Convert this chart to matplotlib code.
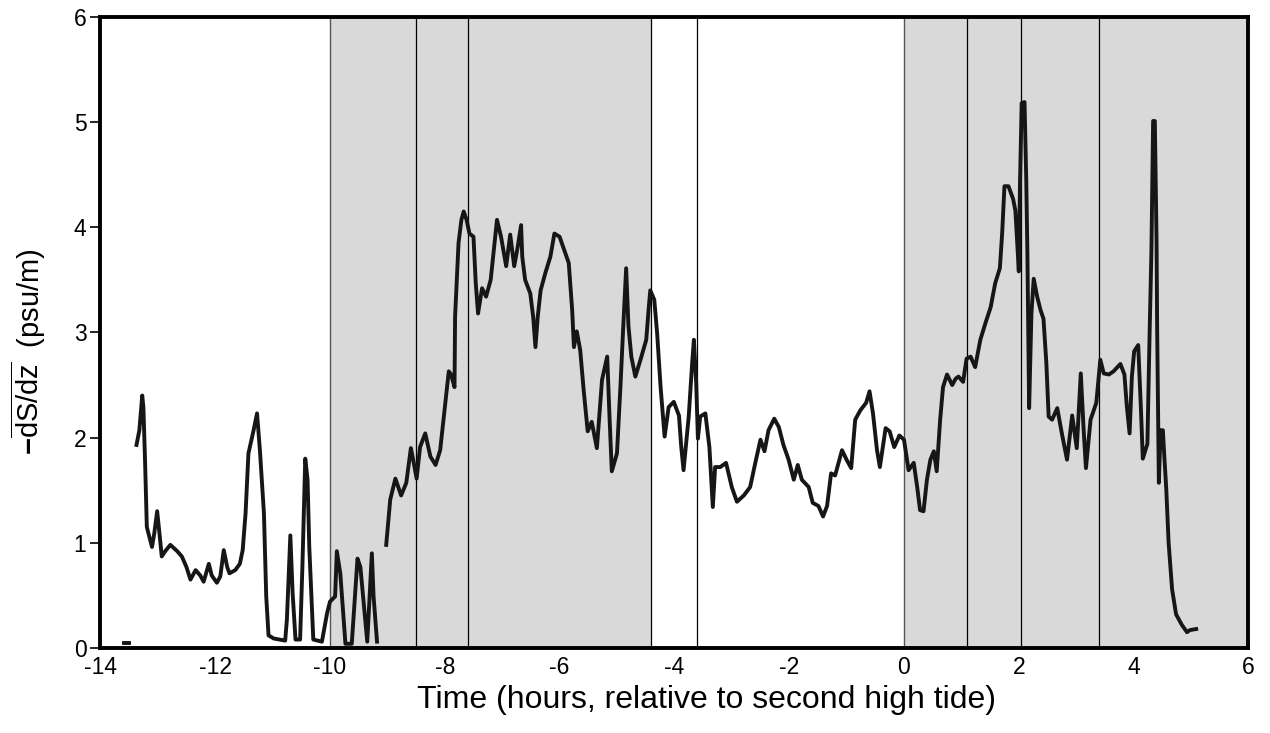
import matplotlib
matplotlib.use("Agg")
import matplotlib.pyplot as plt
import numpy as np

plt.rcParams['font.family'] = ['Liberation Sans', 'DejaVu Sans']
plt.rcParams['mathtext.fontset'] = 'custom'
plt.rcParams['mathtext.rm'] = 'Liberation Sans'
plt.rcParams['mathtext.bf'] = 'Liberation Sans:bold'
plt.rcParams['axes.unicode_minus'] = False

# tiny piece at start
t_a = [-13.58, -13.50]
s_a = [0.05, 0.05]

# first record
t_b = [-13.37, -13.32, -13.27, -13.25, -13.22, -13.19, -13.10, -13.06, -13.01, -12.97,
       -12.93, -12.87, -12.78, -12.66, -12.58, -12.50, -12.43, -12.34, -12.26, -12.20,
       -12.11, -12.06, -11.97, -11.91, -11.85, -11.79, -11.75, -11.65, -11.57, -11.52,
       -11.47, -11.42, -11.33, -11.27, -11.22, -11.15, -11.11, -11.07, -10.98, -10.78,
       -10.75, -10.69, -10.65, -10.60, -10.52, -10.48, -10.43, -10.39, -10.36, -10.29,
       -10.14, -10.05, -10.00, -9.91, -9.88, -9.82, -9.73, -9.62, -9.52, -9.47,
       -9.35, -9.27, -9.24, -9.18]
s_b = [1.93, 2.07, 2.40, 2.29, 1.76, 1.15, 0.96, 1.09, 1.30, 1.09,
       0.87, 0.92, 0.98, 0.92, 0.87, 0.77, 0.65, 0.74, 0.69, 0.63,
       0.80, 0.69, 0.62, 0.68, 0.93, 0.77, 0.71, 0.74, 0.80, 0.93,
       1.28, 1.85, 2.07, 2.23, 1.88, 1.28, 0.49, 0.12, 0.09, 0.07,
       0.27, 1.07, 0.52, 0.08, 0.08, 0.77, 1.80, 1.60, 0.96, 0.08,
       0.06, 0.33, 0.44, 0.49, 0.92, 0.71, 0.04, 0.04, 0.85, 0.77,
       0.06, 0.90, 0.49, 0.06]

# main record
t_c = [-9.02, -8.95, -8.86, -8.76, -8.67, -8.59, -8.54, -8.49, -8.43, -8.34,
       -8.25, -8.16, -8.08, -7.99, -7.93, -7.89, -7.83, -7.82, -7.79, -7.76,
       -7.71, -7.67, -7.62, -7.57, -7.50, -7.46, -7.42, -7.35, -7.28, -7.20,
       -7.14, -7.09, -7.02, -6.93, -6.86, -6.79, -6.73, -6.67, -6.65, -6.60,
       -6.51, -6.46, -6.42, -6.38, -6.33, -6.25, -6.16, -6.09, -6.00, -5.84,
       -5.78, -5.75, -5.70, -5.64, -5.58, -5.51, -5.44, -5.35, -5.26, -5.17,
       -5.13, -5.09, -5.00, -4.94, -4.89, -4.84, -4.80, -4.75, -4.68, -4.59,
       -4.49, -4.45, -4.42, -4.35, -4.30, -4.24, -4.17, -4.10, -4.01, -3.92,
       -3.88, -3.84, -3.75, -3.69, -3.66, -3.62, -3.59, -3.55, -3.46, -3.39,
       -3.33, -3.29, -3.20, -3.10, -3.00, -2.91, -2.79, -2.68, -2.59, -2.50,
       -2.43, -2.36, -2.26, -2.18, -2.10, -2.01, -1.92, -1.85, -1.78, -1.66,
       -1.59, -1.49, -1.41, -1.34, -1.27, -1.20, -1.08, -1.00, -0.92, -0.85,
       -0.76, -0.66, -0.60, -0.54, -0.47, -0.42, -0.32, -0.25, -0.17, -0.08,
       0.00, 0.08, 0.17, 0.23, 0.28, 0.34, 0.40, 0.46, 0.52, 0.57,
       0.63, 0.68, 0.75, 0.84, 0.90, 0.95, 1.03, 1.09, 1.16, 1.24,
       1.33, 1.42, 1.51, 1.59, 1.67, 1.71, 1.75, 1.82, 1.90, 1.94,
       1.97, 2.00, 2.02, 2.05, 2.10, 2.13, 2.15, 2.18, 2.22, 2.26,
       2.32, 2.38, 2.43, 2.48, 2.52, 2.58, 2.67, 2.75, 2.84, 2.93,
       3.01, 3.08, 3.13, 3.17, 3.25, 3.35, 3.42, 3.48, 3.57, 3.65,
       3.77, 3.84, 3.88, 3.93, 3.97, 4.01, 4.08, 4.13, 4.16, 4.20,
       4.24, 4.28, 4.31, 4.34, 4.37, 4.40, 4.41, 4.44, 4.47, 4.51,
       4.53, 4.57, 4.61, 4.67, 4.74, 4.84, 4.93, 4.98, 5.09]
s_c = [0.98, 1.41, 1.61, 1.45, 1.57, 1.90, 1.76, 1.61, 1.91, 2.04,
       1.82, 1.74, 1.88, 2.33, 2.63, 2.60, 2.48, 3.15, 3.50, 3.85,
       4.07, 4.15, 4.07, 3.94, 3.91, 3.47, 3.18, 3.42, 3.34, 3.50,
       3.81, 4.07, 3.91, 3.63, 3.93, 3.63, 3.81, 4.02, 3.72, 3.50,
       3.37, 3.15, 2.86, 3.15, 3.40, 3.56, 3.72, 3.94, 3.91, 3.66,
       3.21, 2.86, 3.01, 2.83, 2.45, 2.06, 2.15, 1.90, 2.55, 2.77,
       2.20, 1.68, 1.85, 2.48, 3.06, 3.61, 3.06, 2.77, 2.58, 2.74,
       2.93, 3.21, 3.40, 3.31, 2.99, 2.48, 2.01, 2.29, 2.34, 2.21,
       1.91, 1.69, 2.20, 2.71, 2.93, 2.52, 1.99, 2.20, 2.23, 1.91,
       1.34, 1.72, 1.72, 1.76, 1.53, 1.39, 1.45, 1.53, 1.76, 1.98,
       1.87, 2.07, 2.18, 2.10, 1.93, 1.79, 1.60, 1.74, 1.60, 1.53,
       1.38, 1.35, 1.25, 1.35, 1.66, 1.64, 1.88, 1.79, 1.71, 2.17,
       2.26, 2.33, 2.44, 2.23, 1.88, 1.72, 2.09, 2.06, 1.91, 2.02,
       1.98, 1.69, 1.76, 1.53, 1.31, 1.30, 1.60, 1.79, 1.87, 1.68,
       2.17, 2.48, 2.60, 2.50, 2.56, 2.58, 2.53, 2.75, 2.77, 2.67,
       2.93, 3.09, 3.24, 3.47, 3.61, 3.94, 4.39, 4.39, 4.27, 4.16,
       3.88, 3.58, 4.39, 5.18, 5.19, 4.45, 3.75, 2.28, 3.18, 3.51,
       3.34, 3.21, 3.13, 2.71, 2.20, 2.17, 2.28, 2.04, 1.79, 2.21,
       1.90, 2.61, 2.07, 1.71, 2.17, 2.33, 2.74, 2.61, 2.60, 2.63,
       2.70, 2.60, 2.31, 2.04, 2.58, 2.82, 2.88, 2.24, 1.80, 1.87,
       1.94, 3.02, 3.76, 5.01, 5.01, 3.86, 3.05, 1.57, 2.07, 2.07,
       1.87, 1.50, 1.00, 0.56, 0.32, 0.22, 0.15, 0.17, 0.18]

shade_spans = [(-10.0, -4.4), (0.0, 6.0)]
edge_lines = [-10.0, 0.0]
phase_lines = [-8.5, -7.6, -4.4, -3.6, 1.1, 2.03, 3.4]

fig = plt.figure(figsize=(12.7, 7.33), dpi=100)
ax = fig.add_axes([0.079, 0.116, 0.904, 0.861])

for a, b in shade_spans:
    ax.axvspan(a, b, color='#d9d9d9', lw=0, zorder=0)
for x in edge_lines:
    ax.axvline(x, color='#555555', lw=1.0, zorder=1)
for x in phase_lines:
    ax.axvline(x, color='black', lw=0.9, zorder=1)

for t, s in [(t_a, s_a), (t_b, s_b), (t_c, s_c)]:
    ax.plot(t, s, color='#161616', lw=2.8, solid_joinstyle='round', zorder=3)

ax.set_xlim(-14, 6)
ax.set_ylim(0, 6)
ax.set_xticks(np.arange(-14, 7, 2))
ax.set_yticks(np.arange(0, 7, 1))
ax.tick_params(axis='both', labelsize=16.5, width=1.2, color='black')
ax.tick_params(axis='y', direction='out', length=7, pad=3)
ax.tick_params(axis='x', direction='in', length=0, pad=6)
for sp in ax.spines.values():
    sp.set_linewidth(2.8)

ax.set_xlabel('Time (hours, relative to second high tide)', fontsize=23)
ax.xaxis.set_label_coords(0.528, -0.058)
ax.set_ylabel(r'$\mathbf{-}\overline{\mathrm{dS/dz}}$  (psu/m)', fontsize=21)
ax.yaxis.set_label_coords(-0.046, 0.47)

fig.savefig('out.png', dpi=100)
